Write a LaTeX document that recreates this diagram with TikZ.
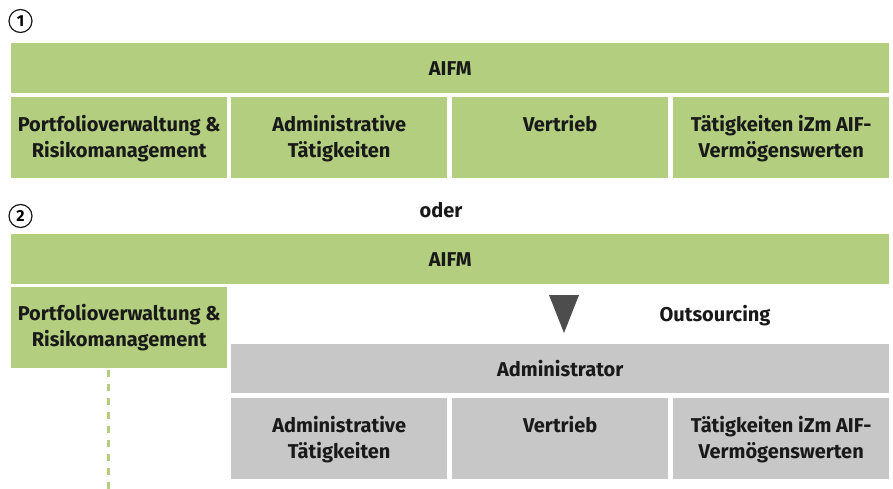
\documentclass[tikz,border=0pt]{standalone}
\usepackage{fontspec}
\setmainfont{Fira Sans}
\usetikzlibrary{positioning}

\definecolor{aifgreen}{HTML}{B2CE7E}
\definecolor{admgrey}{HTML}{C6C7C6}
\definecolor{arrowgrey}{HTML}{4D4D4D}

\tikzset{
	gbox/.style={fill=aifgreen,draw=none,anchor=north west,inner sep=0pt},
	abox/.style={fill=admgrey,draw=none,anchor=north west,inner sep=0pt},
	boxtext/.style={anchor=north,align=center,inner sep=0pt,font=\bfseries\fontsize{20}{26.5}\selectfont,text=black!90},
	numcircle/.style={circle,draw=black!90,line width=1.2pt,minimum size=23pt,inner sep=0pt,font=\bfseries\fontsize{16}{16}\selectfont}
}

\begin{document}
\begin{tikzpicture}[x=1pt,y=-1pt]
		\useasboundingbox (0,0) rectangle (893,489);
		
		% variante 1
		\node[numcircle] (num1) at (20.5,21) {1};
		
		\node[gbox,minimum width=878pt,minimum height=50pt] (aifm1) at (11,43) {};
		\node[boxtext,anchor=center] (aifm1t) at (aifm1.center) {AIFM};
		
		\node[gbox,minimum width=216pt,minimum height=81pt] (pf1) at (11,97) {};
		\node[gbox,minimum width=216pt,minimum height=81pt] (adm1) at (231,97) {};
		\node[gbox,minimum width=216pt,minimum height=81pt] (ver1) at (452,97) {};
		\node[gbox,minimum width=216pt,minimum height=81pt] (aif1) at (673,97) {};
		
		\node[boxtext] (pf1t) at ([yshift=-18pt]pf1.north) {Portfolioverwaltung \&\\Risikomanagement};
		\node[boxtext] (adm1t) at ([yshift=-18pt]adm1.north) {Administrative\\Tätigkeiten};
		\node[boxtext] (ver1t) at ([yshift=-18pt]ver1.north) {Vertrieb};
		\node[boxtext] (aif1t) at ([yshift=-18pt]aif1.north) {Tätigkeiten iZm AIF-\\Vermögenswerten};
		
		\node[boxtext,anchor=center] (oder) at (441,210) {oder};
		
		% variante 2
		\node[numcircle] (num2) at (20.5,216) {2};
		
		\node[gbox,minimum width=878pt,minimum height=50pt] (aifm2) at (11,234) {};
		\node[boxtext,anchor=center] (aifm2t) at (aifm2.center) {AIFM};
		
		\node[gbox,minimum width=216pt,minimum height=81pt] (pf2) at (11,287) {};
		\node[boxtext,anchor=center] (pf2t) at (pf2.center) {Portfolioverwaltung \&\\Risikomanagement};
		
		\coordinate (pfend) at (108,489);
		\draw[aifgreen,line width=3pt,dash pattern=on 7pt off 7pt] ([yshift=-2pt]pf2.south -| pfend) -- (pfend);
		
		% pfeil nach unten
		\fill[arrowgrey] (549,295) -- (579,295) -- (564,333) -- cycle;
		\node[boxtext,anchor=center] (outs) at (715,316) {Outsourcing};
		
		\node[abox,minimum width=658pt,minimum height=49pt] (admin) at (231,344) {};
		\node[boxtext,anchor=center] (admint) at (admin.center) {Administrator};
		
		\node[abox,minimum width=216pt,minimum height=81pt] (adm2) at (231,398) {};
		\node[abox,minimum width=216pt,minimum height=81pt] (ver2) at (452,398) {};
		\node[abox,minimum width=216pt,minimum height=81pt] (aif2) at (673,398) {};
		
		\node[boxtext] (adm2t) at ([yshift=-18pt]adm2.north) {Administrative\\Tätigkeiten};
		\node[boxtext] (ver2t) at ([yshift=-18pt]ver2.north) {Vertrieb};
		\node[boxtext] (aif2t) at ([yshift=-18pt]aif2.north) {Tätigkeiten iZm AIF-\\Vermögenswerten};
\end{tikzpicture}
\end{document}
